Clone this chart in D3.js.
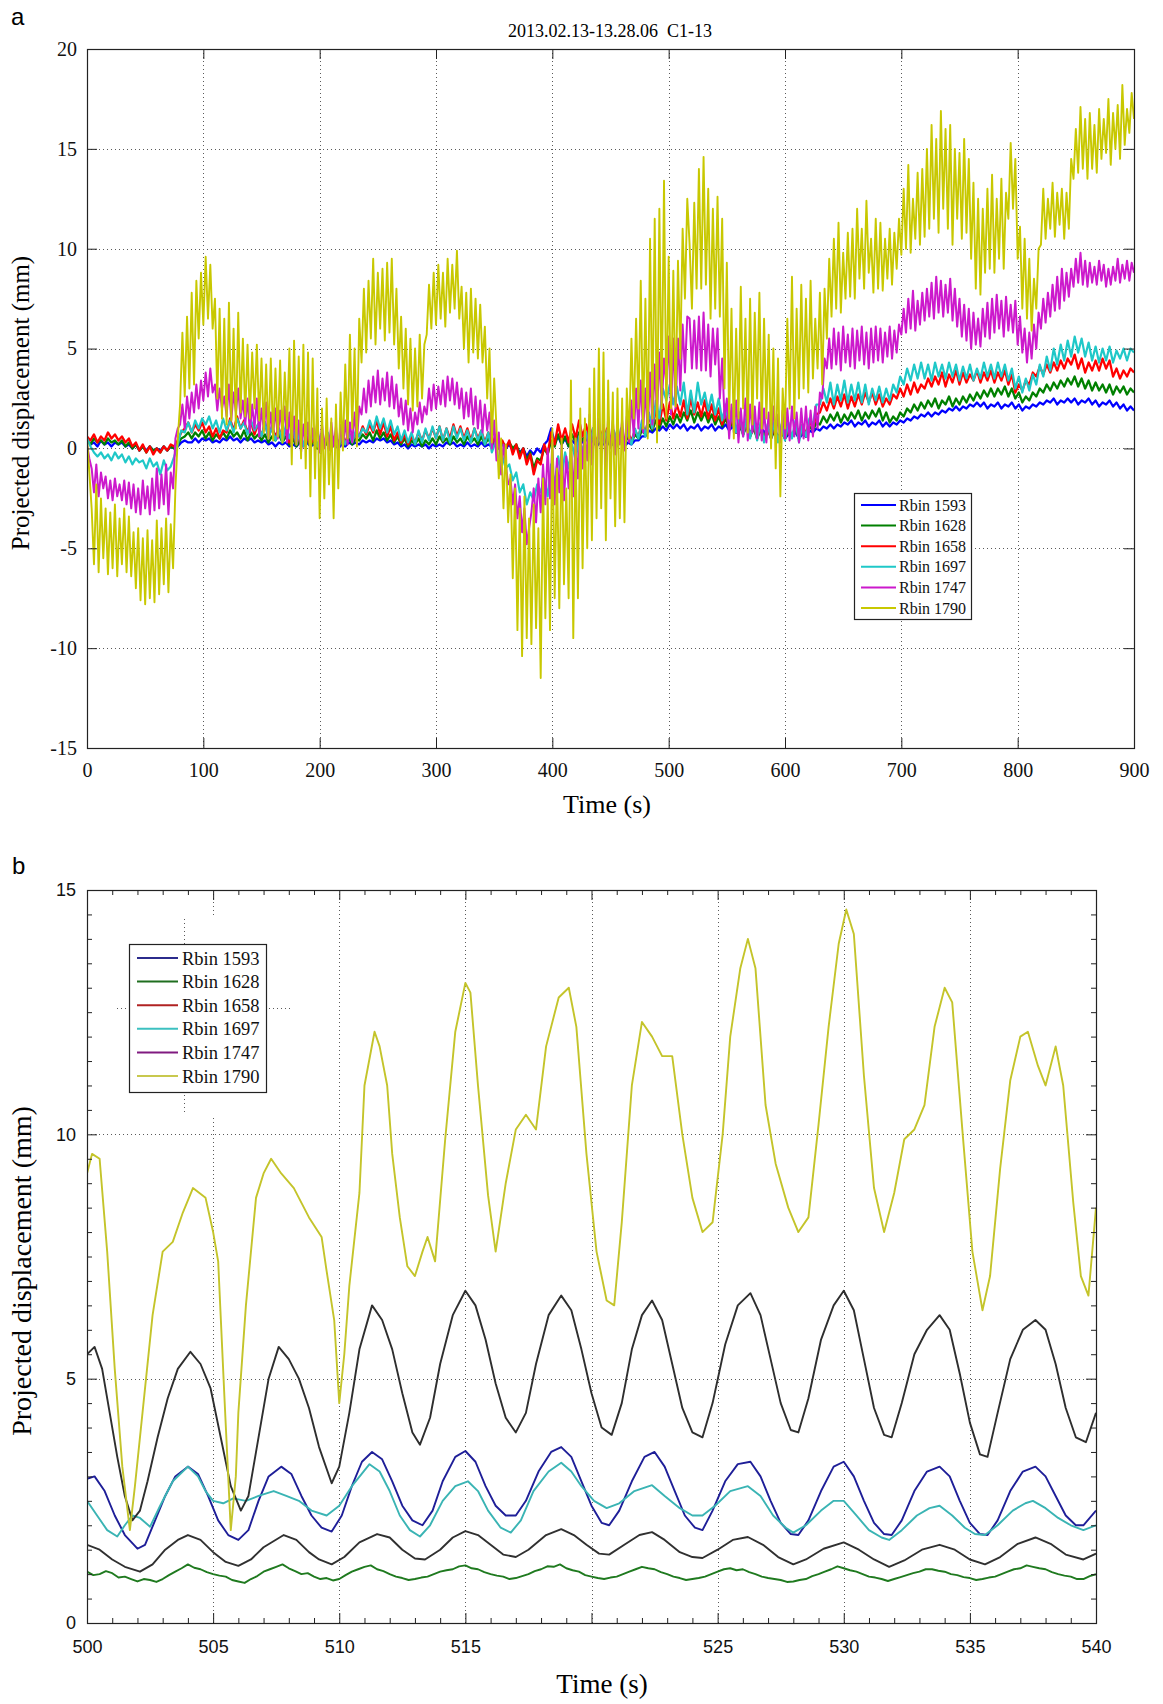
<!DOCTYPE html>
<html>
<head>
<meta charset="utf-8">
<script src="https://cdn.jsdelivr.net/npm/d3@7"></script>
<style>
  html, body { margin: 0; padding: 0; background: #fff; }
  svg { display: block; }
</style>
</head>
<body>
<svg id="fig" width="1163" height="1704"></svg>
<script>
// ---------------- Panel a: full record, 0–900 s ----------------
const titleA = "2013.02.13-13.28.06  C1-13";
const namesA = ["Rbin 1593", "Rbin 1628", "Rbin 1658", "Rbin 1697", "Rbin 1747", "Rbin 1790"];
const colorsA = ["#0000ff", "#008000", "#ff0000", "#1fc8c8", "#cc19cc", "#c8c800"];
const xTicksA = [0, 100, 200, 300, 400, 500, 600, 700, 800, 900];
const yTicksA = [-15, -10, -5, 0, 5, 10, 15, 20];

// sampling interval (s) of each panel-a record
const stepFine = 2;   // Rbin 1747, Rbin 1790
const stepCoarse = 3; // Rbin 1593, 1628, 1658, 1697

const a1593 = [
0.4,0.2,0.3,0.1,0.4,0.2,0.3,0.1,0.3,0.2, 0.3,0.1,0.2,0.0,0.2,-0.1,0.1,-0.1,0.1,-0.1,
0.0,-0.1,0.1,-0.1,0.1,0.0,0.1,0.3,0.4,0.3, 0.3,0.5,0.3,0.5,0.4,0.5,0.3,0.4,0.3,0.5,
0.4,0.6,0.4,0.5,0.3,0.5,0.4,0.5,0.3,0.4, 0.3,0.4,0.2,0.3,0.1,0.3,0.2,0.3,0.1,0.2,
0.1,0.3,0.2,0.3,0.1,0.2,0.0,0.2,0.1,0.3, 0.1,0.2,0.0,0.2,0.1,0.3,0.2,0.3,0.2,0.4,
0.3,0.4,0.3,0.5,0.4,0.5,0.3,0.4,0.2,0.3, 0.1,0.2,0.0,0.2,0.1,0.2,0.1,0.2,0.0,0.2,
0.1,0.2,0.1,0.3,0.2,0.3,0.1,0.2,0.1,0.3, 0.1,0.2,0.1,0.3,0.1,0.2,0.1,0.2,0.0,0.2,
0.0,0.2,-0.1,0.1,-0.2,0.0,-0.4,-0.1,-0.3,0.0, -0.2,0.2,0.4,1.0,0.3,0.6,0.2,0.5,0.1,0.4,
0.2,0.5,0.3,0.5,0.2,0.4,0.1,0.3,0.2,0.4, 0.1,0.3,0.2,0.4,0.1,0.3,0.2,0.4,0.4,0.6,
0.6,0.9,0.8,1.0,0.9,1.1,0.9,1.2,1.0,1.2, 1.0,1.2,0.9,1.1,1.0,1.2,0.9,1.1,1.0,1.2,
0.9,1.1,1.0,1.2,0.9,1.1,0.8,1.0,0.9,1.1, 0.8,1.0,0.9,1.1,0.8,1.0,0.7,0.9,0.6,0.8,
0.5,0.7,0.6,0.8,0.5,0.7,0.6,0.9,0.8,1.0, 0.9,1.1,1.0,1.2,1.0,1.2,1.1,1.3,1.2,1.4,
1.1,1.3,1.2,1.4,1.1,1.3,1.2,1.4,1.1,1.3, 1.1,1.3,1.2,1.4,1.3,1.5,1.4,1.6,1.5,1.7,
1.6,1.8,1.6,1.8,1.7,1.9,1.8,2.0,1.9,2.1, 1.9,2.1,2.0,2.2,2.1,2.3,2.1,2.3,2.0,2.2,
2.1,2.3,2.0,2.2,2.1,2.3,2.0,2.2,1.9,2.1, 2.0,2.2,2.1,2.3,2.2,2.4,2.3,2.5,2.2,2.4,
2.3,2.5,2.3,2.5,2.2,2.4,2.3,2.5,2.2,2.4, 2.1,2.3,2.2,2.4,2.1,2.3,2.0,2.2,1.9,2.1,
1.9];

const a1628 = [
0.4,0.2,0.5,0.3,0.4,0.2,0.5,0.3,0.4,0.2, 0.4,0.1,0.3,0.0,0.2,-0.1,0.1,-0.2,0.1,-0.1,
0.0,-0.2,0.1,-0.1,0.1,0.0,0.2,0.5,0.6,0.8, 0.5,0.8,0.6,0.9,0.5,0.8,0.4,0.7,0.5,0.8,
0.5,0.9,0.6,0.8,0.5,0.9,0.4,0.8,0.5,0.7, 0.4,0.7,0.3,0.6,0.4,0.7,0.3,0.6,0.2,0.5,
0.1,0.4,0.2,0.5,0.1,0.4,0.0,0.3,0.1,0.4, 0.0,0.3,0.1,0.4,0.2,0.5,0.2,0.5,0.4,0.7,
0.5,0.8,0.4,0.9,0.5,0.8,0.4,0.7,0.3,0.6, 0.2,0.5,0.1,0.4,0.2,0.5,0.1,0.4,0.2,0.5,
0.2,0.6,0.3,0.5,0.2,0.6,0.3,0.5,0.2,0.6, 0.3,0.5,0.2,0.6,0.2,0.5,0.1,0.4,0.0,0.3,
0.1,0.3,0.0,0.2,-0.3,0.0,-0.6,-0.2,-1.0,-0.5, -0.6,0.0,-0.3,0.4,0.1,0.7,0.2,0.6,0.1,0.7,
0.3,0.8,0.4,0.7,0.3,0.6,0.2,0.7,0.3,0.6, 0.2,0.6,0.3,0.7,0.2,0.6,0.3,0.7,0.5,0.9,
0.7,1.2,0.9,1.4,1.0,1.5,1.1,1.6,1.2,1.7, 1.3,1.8,1.4,1.9,1.3,1.8,1.4,1.8,1.3,1.7,
1.2,1.6,1.1,1.5,1.0,1.3,0.8,1.2,0.7,1.1, 0.6,1.0,0.5,0.9,0.6,1.0,0.5,0.9,0.4,0.8,
0.5,0.9,0.6,1.0,0.5,0.9,0.6,1.1,0.9,1.3, 1.2,1.6,1.3,1.7,1.4,1.8,1.3,1.7,1.4,1.8,
1.5,1.9,1.4,1.8,1.5,1.9,1.6,2.0,1.4,1.8, 1.3,1.6,1.4,1.8,1.6,2.0,1.8,2.2,1.9,2.3,
2.0,2.4,2.1,2.5,2.0,2.4,2.2,2.6,2.1,2.5, 2.2,2.6,2.3,2.7,2.4,2.8,2.5,2.9,2.6,3.0,
2.6,3.0,2.7,3.1,2.6,3.0,2.5,2.8,2.3,2.6, 2.4,2.8,2.6,3.0,2.8,3.2,2.9,3.3,3.0,3.4,
3.1,3.5,3.2,3.6,3.1,3.5,3.0,3.4,2.9,3.3, 2.9,3.2,2.8,3.2,2.7,3.1,2.8,3.1,2.7,3.0,
2.8];

const a1658 = [
0.6,0.4,0.7,0.3,0.6,0.4,0.8,0.5,0.7,0.4, 0.6,0.3,0.5,0.1,0.3,-0.1,0.2,-0.2,0.1,-0.3,
0.0,-0.2,0.1,-0.1,0.2,0.1,0.4,0.8,1.0,1.3, 0.8,1.2,0.9,1.3,0.8,1.1,0.6,1.0,0.5,0.9,
0.8,1.5,0.9,1.6,1.0,1.4,0.8,1.3,0.7,1.2, 0.6,1.3,0.5,1.1,0.6,1.0,0.4,0.9,0.3,0.8,
0.2,0.7,0.1,0.6,0.2,0.5,0.1,0.6,0.2,0.7, 0.1,0.6,0.2,0.7,0.3,0.8,0.4,0.7,0.6,1.1,
0.7,1.2,0.8,1.4,0.7,1.3,0.6,1.1,0.4,0.8, 0.3,0.7,0.2,0.6,0.3,0.8,0.4,0.9,0.5,1.0,
0.5,1.1,0.4,1.0,0.5,1.2,0.6,1.1,0.5,1.0, 0.4,1.0,0.5,0.9,0.3,0.8,0.2,0.6,0.1,0.4,
0.0,0.4,-0.3,0.2,-0.5,0.0,-0.8,-0.3,-1.3,-0.6, -0.8,0.2,-0.3,0.8,0.2,1.2,0.4,1.0,0.3,1.2,
0.5,1.4,0.6,1.2,0.4,1.0,0.3,0.9,0.4,1.0, 0.2,0.8,0.3,0.7,0.2,0.8,0.4,0.9,0.6,1.2,
0.8,1.6,1.0,1.9,1.2,2.2,1.4,2.3,1.5,2.2, 1.6,2.4,1.5,2.5,1.7,2.3,1.6,2.4,1.5,2.2,
1.4,2.0,1.2,1.8,1.0,1.6,0.8,1.5,0.7,1.3, 0.6,1.2,0.5,1.1,0.4,1.0,0.5,1.1,0.4,0.9,
0.5,1.0,0.6,1.1,0.5,1.2,0.7,1.4,1.0,1.7, 1.8,2.3,1.9,2.5,2.0,2.6,2.1,2.7,2.0,2.6,
2.1,2.7,2.2,2.8,2.3,2.8,2.2,2.7,2.1,2.5, 2.2,2.7,2.5,3.0,2.6,3.2,2.7,3.3,2.8,3.2,
3.0,3.5,3.1,3.6,3.2,3.8,3.1,3.7,3.3,3.9, 3.2,3.8,3.3,3.7,3.4,3.9,3.3,3.8,3.4,3.9,
3.3,3.8,3.4,3.9,3.2,3.7,2.8,3.2,2.9,3.4, 3.2,3.8,3.6,4.1,3.7,4.2,3.8,4.3,3.9,4.4,
4.0,4.5,4.2,4.7,4.0,4.5,3.8,4.3,3.9,4.4, 3.9,4.5,4.0,4.4,3.6,4.0,3.5,3.9,3.6,4.0,
3.8];

const a1697 = [
0.5,0.1,-0.2,-0.4,-0.2,-0.5,-0.3,-0.6,-0.2,-0.5, -0.3,-0.7,-0.4,-0.8,-0.5,-0.7,-0.6,-1.0,-0.5,-0.9,
-0.7,-1.3,-0.6,-1.1,-0.9,-0.4,0.2,0.9,0.8,1.3, 0.8,1.4,1.0,1.5,1.2,1.6,1.0,1.4,0.8,1.5,
0.9,1.4,0.8,1.5,1.0,1.3,0.7,1.4,0.9,1.2, 0.6,1.3,0.5,1.1,0.4,1.0,0.3,1.2,0.5,1.1,
0.2,0.9,0.1,1.0,0.3,0.8,0.1,0.7,0.2,0.8, 0.1,0.6,0.0,0.7,0.2,0.8,0.3,0.9,0.6,1.0,
0.8,1.4,0.9,1.6,1.0,1.5,0.8,1.4,0.7,1.1, 0.4,0.9,0.3,0.8,0.2,0.9,0.3,1.0,0.4,1.1,
0.5,1.1,0.4,1.0,0.3,1.1,0.5,1.0,0.4,0.9, 0.3,1.0,0.4,0.9,0.2,0.8,-0.2,0.3,-0.6,-0.4,
-1.0,-0.8,-1.6,-1.2,-2.2,-1.8,-2.8,-2.2,-2.6,-1.8, -2.2,-1.5,-2.4,-0.8,-1.8,-0.4,-1.5,-0.2,-1.0,0.2,
-0.6,0.6,-0.2,0.8,0.0,1.0,0.2,0.8,0.3,0.9, 0.2,0.9,0.1,1.0,0.3,0.8,0.2,1.0,0.5,1.4,
0.6,1.8,1.0,2.4,1.5,3.0,2.4,3.2,2.2,3.1, 2.2,3.3,1.7,2.9,1.8,3.3,2.2,2.8,1.9,2.7,
1.7,2.5,1.4,2.2,1.0,2.0,0.8,1.8,0.6,1.6, 0.5,1.5,0.4,1.3,0.3,1.2,0.5,1.4,0.3,1.2,
0.4,1.3,0.5,1.4,0.3,1.2,0.6,1.5,1.2,2.2, 2.2,3.0,2.3,3.3,2.2,3.2,2.4,3.4,2.3,3.2,
2.4,3.3,2.3,3.2,2.2,3.0,2.4,3.1,2.3,3.0, 2.4,3.2,2.8,3.6,3.2,4.0,3.4,4.2,3.5,4.3,
3.5,4.2,3.4,4.3,3.6,4.2,3.5,4.3,3.6,4.2, 3.4,4.1,3.5,4.2,3.4,4.0,3.5,4.3,3.6,4.2,
3.5,4.3,3.6,4.2,3.4,4.0,3.0,3.6,2.8,3.5, 2.9,3.7,3.2,4.2,3.6,4.6,3.9,5.0,4.2,5.2,
4.4,5.4,4.6,5.6,4.8,5.5,4.6,5.3,4.4,5.1, 4.3,5.0,4.4,5.1,4.3,4.9,4.5,5.0,4.4,5.0,
4.8];

const a1747 = [
0.2,-0.5,-1.0,-2.2,-0.8,-2.4,-1.2,-2.0,-1.4,-2.5, -1.6,-2.6,-1.5,-2.4,-1.8,-2.6,-1.6,-2.8,-1.7,-3.0,
-1.8,-3.2,-2.0,-3.3,-1.6,-3.0,-1.9,-3.3,-1.5,-3.1, -1.0,-3.0,-1.3,-2.8,-0.8,-3.3,-1.2,-2.0,0.5,1.0,
1.2,2.2,1.0,2.6,1.5,2.8,1.8,3.2,2.0,3.4, 2.4,3.8,2.6,4.0,2.8,3.2,1.9,3.0,2.0,2.6,
1.6,3.2,1.4,2.8,1.8,3.0,1.5,2.4,1.2,2.5, 0.8,2.2,1.0,2.5,0.6,2.0,0.9,2.3,0.5,1.8,
0.7,2.0,0.5,1.9,0.8,2.1,0.3,1.8,0.1,1.6, 0.2,1.4,-0.2,1.2,0.0,1.3,-0.1,1.0,0.2,1.4,
-0.2,1.2,0.0,1.0,-0.1,1.3,0.1,1.1,-0.2,1.2, 0.0,1.4,0.2,1.3,0.3,1.8,0.3,2.1,1.7,3.0,
1.8,3.4,2.1,3.6,2.3,3.9,2.2,3.5,2.4,3.8, 2.1,3.6,2.0,3.2,1.6,2.5,1.2,2.4,0.9,2.0,
0.8,1.8,1.2,2.3,1.3,2.1,1.7,3.0,1.9,3.2, 2.0,3.1,2.2,3.4,2.1,3.6,2.4,3.5,2.2,3.3,
2.0,3.0,1.5,2.8,1.6,3.0,1.2,2.6,1.0,2.4, 0.8,2.2,0.9,1.8,0.0,1.4,-0.6,0.8,-1.3,0.2,
-0.8,-1.8,-1.5,-2.8,-1.8,-3.5,-2.4,-4.2,-3.0,-4.8, -4.0,-3.2,-2.0,-3.7,-1.5,-3.2,-0.8,-2.8,0.0,-2.5,
0.3,-2.8,-0.5,-2.2,0.2,-2.6,-0.4,-2.0,0.3,-2.4, 0.5,-1.5,1.2,-1.0,0.8,-0.6,1.7,-0.8,1.0,-0.4,
1.5,-0.2,1.2,-1.0,1.6,0.0,1.4,-0.3,1.2,0.2, 1.4,-0.1,1.6,0.3,2.4,0.6,3.0,1.0,3.4,0.8,
3.0,0.8,3.8,1.2,4.2,1.6,4.8,2.0,4.5,3.2, 5.6,1.7,5.5,2.0,5.5,2.9,6.2,3.8,6.6,6.5,
4.0,6.4,4.0,6.6,3.9,6.8,3.9,6.2,3.6,6.0, 4.2,6.0,2.5,4.5,1.5,2.5,0.5,2.2,0.8,2.4,
0.3,2.0,0.6,2.5,0.4,2.2,0.8,2.1,0.5,2.3, 0.4,2.0,0.3,1.8,0.6,2.1,0.5,1.7,0.3,1.9,
0.5,2.0,0.4,2.1,0.6,1.8,0.3,2.0,0.5,2.1, 0.4,1.9,0.6,2.1,1.0,2.8,2.5,4.5,4.0,5.5,
4.0,6.0,4.2,5.8,3.9,6.1,4.3,5.7,4.1,6.0, 4.0,5.9,4.4,6.1,4.2,5.8,4.0,6.0,4.3,6.1,
4.4,6.0,4.3,5.8,4.6,6.1,4.5,5.9,4.8,6.2, 5.7,7.0,5.8,7.5,6.0,7.9,5.9,7.4,6.2,7.8,
6.4,8.0,6.6,8.3,6.5,8.6,6.8,8.4,6.6,8.2, 6.8,8.5,6.4,8.0,6.1,7.5,5.6,7.2,5.4,7.0,
5.0,6.8,5.2,6.5,5.1,7.0,5.6,7.3,5.5,7.5, 5.8,7.7,6.0,7.4,5.6,7.6,5.9,7.2,5.8,7.4,
5.2,6.6,4.8,6.0,4.3,5.8,4.5,6.2,5.0,6.8, 6.0,7.5,6.3,7.8,6.6,8.2,6.9,8.6,7.0,9.0,
7.4,8.8,7.6,9.0,8.1,9.5,8.3,9.8,8.2,9.4, 8.1,9.3,8.3,9.1,8.2,9.4,8.4,9.2,8.1,9.0,
8.2,9.1,8.4,9.5,8.3,9.2,8.5,9.4,8.4,9.3,
8.8];

const a1790 = [
0.5,-1.2,-3.0,-5.8,-1.8,-6.2,-2.5,-5.5,-3.0,-6.3, -3.2,-6.0,-2.8,-6.4,-3.5,-5.8,-3.0,-6.2,-3.4,-6.4,
-4.2,-7.0,-4.0,-7.6,-4.5,-7.8,-4.1,-7.5,-4.6,-7.7, -3.6,-7.3,-4.0,-6.8,-3.5,-7.2,-3.8,-6.0,-2.0,0.5,
2.2,5.8,2.6,6.6,3.0,7.8,3.2,8.4,5.5,8.8, 6.2,9.6,6.5,9.2,6.0,7.5,2.5,7.0,1.5,6.5,
1.2,7.3,1.4,6.0,1.0,6.8,1.8,5.5,1.6,5.2, 1.5,4.8,2.0,5.2,1.4,4.5,0.8,4.2,0.5,4.5,
0.4,4.0,0.6,4.4,0.3,3.8,1.0,5.0,-0.8,5.4, 0.2,4.6,-0.5,5.2,-1.0,4.8,-2.4,4.5,-1.5,3.0,
-3.5,2.0,-2.5,2.5,-1.8,1.5,-3.5,2.2,-2.0,2.8, -0.1,4.2,0.5,5.7,1.0,5.0,0.1,6.5,4.3,8.0,
4.8,8.4,5.5,9.5,5.2,8.8,6.0,9.0,5.4,9.3, 5.8,9.5,5.2,8.0,4.0,6.6,3.0,6.0,2.2,5.5,
1.9,5.0,2.1,5.7,2.5,5.2,5.7,8.2,6.0,8.8, 6.2,9.2,6.5,8.8,6.1,9.5,6.8,9.2,7.0,9.9,
6.5,8.1,5.0,7.8,4.3,8.0,4.8,7.5,4.5,7.2, 4.3,6.1,2.5,5.0,0.3,3.5,1.0,-1.5,0.5,-3.0,
0.2,-3.7,-1.3,-6.5,-2.0,-9.1,-3.0,-10.4,-2.4,-9.5, -3.5,-9.8,-2.8,-9.0,-4.0,-11.5,-1.5,-8.5,-2.5,-9.1,
1.0,-7.5,-1.0,-8.0,0.5,-6.8,-2.0,-7.5,3.4,-9.5, 0.5,-7.5,2.0,-6.0,1.5,-5.0,3.0,-4.6,4.0,-3.5,
5.0,-3.0,4.8,-4.6,3.4,-2.5,2.8,-3.9,3.0,-3.5, 2.5,-3.7,3.0,0.5,5.5,1.5,6.5,2.0,8.4,1.0,
7.5,0.5,10.5,1.5,11.5,0.3,12.0,2.0,13.4,1.5, 9.6,2.0,8.9,2.1,9.4,4.5,11.0,7.5,12.5,10.2,
7.0,12.3,8.0,14.0,8.0,14.6,8.2,13.0,6.5,12.0, 7.0,12.6,6.6,11.5,3.0,9.3,1.5,7.0,0.5,6.0,
1.5,8.1,2.0,6.5,0.8,7.5,1.2,6.8,2.5,7.8, 1.0,6.5,1.5,5.7,0.0,5.0,-1.0,4.5,-2.4,3.0,
1.0,6.5,2.0,8.6,1.5,7.0,2.5,8.2,3.0,7.5, 2.8,8.4,3.5,6.5,4.0,7.8,3.2,8.0,5.5,9.5,
6.6,10.5,7.0,11.3,6.8,9.8,7.5,10.8,7.6,11.0, 7.5,12.0,8.5,11.0,8.0,12.4,8.8,10.5,7.8,11.5,
8.0,11.3,7.9,10.5,8.5,11.0,8.2,10.8,9.0,11.5, 9.7,13.0,10.0,14.2,9.8,12.5,10.5,13.8,10.2,14.0,
10.6,15.0,11.0,16.2,11.5,15.5,10.8,16.9,12.0,16.0, 11.0,16.2,10.2,15.0,11.5,14.8,10.5,15.5,10.8,14.5,
9.5,13.3,8.0,12.5,7.7,12.0,8.8,13.0,9.0,13.7, 8.8,12.5,9.5,13.5,9.0,12.8,11.5,15.3,12.0,14.5,
9.5,11.1,7.0,10.5,6.5,9.5,5.9,8.5,7.0,10.0, 10.2,13.0,10.5,12.5,11.0,13.3,10.6,12.8,11.2,13.0,
10.5,12.8,11.0,14.5,13.5,16.0,13.8,17.1,14.0,16.5, 13.5,16.8,14.0,16.2,13.8,17.0,14.5,16.5,14.8,17.5,
14.2,16.8,15.0,17.2,14.5,18.2,15.2,17.0,15.8,17.8,
16.5];

const seriesA = [
  { values: a1593, step: stepCoarse },
  { values: a1628, step: stepCoarse },
  { values: a1658, step: stepCoarse },
  { values: a1697, step: stepCoarse },
  { values: a1747, step: stepFine },
  { values: a1790, step: stepFine }
];

// ---------------- Panel b: detail, 500–540 s ----------------
const namesB = namesA;
const legendColorsB = ["#2b2b8c", "#1f6e1f", "#b02222", "#3cc0c0", "#801a80", "#c8c84e"];
const lineColorsB = ["#1e1e98", "#1f7a1f", "#303030", "#3ab4b4", "#2e2e2e", "#c4c42a"];
const xTicksB = [500, 505, 510, 515, 520, 525, 530, 535, 540];
const xLabelsB = [500, 505, 510, 515, 525, 530, 535, 540];
const yTicksB = [0, 5, 10, 15];

// [time (s), displacement (mm)]
const b1593 = [[500.0,2.95],[500.3,3.0],[500.7,2.7],[501.1,2.2],[501.5,1.8],[502.0,1.52],[502.3,1.6],[502.7,2.1],[503.1,2.6],[503.5,3.0],[504.0,3.2],[504.4,3.05],[504.8,2.6],[505.2,2.1],[505.6,1.8],[506.0,1.7],[506.4,1.9],[506.8,2.5],[507.2,3.0],[507.7,3.2],[508.1,3.05],[508.5,2.6],[508.9,2.2],[509.3,1.95],[509.7,1.87],[510.1,2.2],[510.5,2.8],[510.9,3.3],[511.3,3.5],[511.7,3.35],[512.1,2.9],[512.5,2.4],[512.9,2.1],[513.3,2.0],[513.7,2.3],[514.1,2.9],[514.6,3.4],[515.0,3.52],[515.4,3.3],[515.8,2.8],[516.2,2.4],[516.6,2.2],[517.0,2.2],[517.4,2.5],[517.9,3.1],[518.4,3.5],[518.8,3.6],[519.2,3.4],[519.6,2.9],[520.0,2.4],[520.4,2.05],[520.7,2.0],[521.1,2.3],[521.6,2.9],[522.1,3.4],[522.5,3.5],[522.9,3.2],[523.3,2.7],[523.7,2.2],[524.1,1.95],[524.4,1.9],[524.8,2.3],[525.3,2.9],[525.8,3.25],[526.3,3.3],[526.7,3.0],[527.1,2.5],[527.5,2.05],[527.9,1.82],[528.2,1.8],[528.6,2.1],[529.1,2.7],[529.6,3.2],[530.0,3.3],[530.4,3.0],[530.8,2.5],[531.2,2.05],[531.6,1.82],[531.9,1.8],[532.3,2.1],[532.8,2.7],[533.3,3.1],[533.8,3.2],[534.2,3.0],[534.6,2.5],[535.0,2.05],[535.4,1.82],[535.7,1.8],[536.1,2.1],[536.6,2.7],[537.1,3.1],[537.6,3.2],[538.0,3.0],[538.4,2.6],[538.8,2.2],[539.2,2.0],[539.5,2.0],[540.0,2.3]];

const b1628 = [[500,1.05],[500.25,0.98],[500.5,1.0],[500.75,1.06],[501,1.02],[501.25,0.93],[501.5,0.95],[501.75,0.9],[502,0.85],[502.25,0.9],[502.5,0.88],[502.75,0.84],[503,0.9],[503.25,0.98],[503.5,1.05],[503.75,1.12],[504,1.2],[504.25,1.13],[504.5,1.1],[504.75,1.04],[505,1.0],[505.25,0.97],[505.5,0.95],[505.75,0.88],[506,0.85],[506.25,0.82],[506.5,0.9],[506.75,0.96],[507,1.05],[507.25,1.1],[507.5,1.15],[507.75,1.2],[508,1.12],[508.25,1.06],[508.5,1.0],[508.75,1.02],[509,0.95],[509.25,0.9],[509.5,0.92],[509.75,0.87],[510,0.9],[510.25,0.98],[510.5,1.05],[510.75,1.1],[511,1.15],[511.25,1.18],[511.5,1.1],[511.75,1.06],[512,1.0],[512.25,0.95],[512.5,0.92],[512.75,0.88],[513,0.9],[513.25,0.93],[513.5,0.95],[513.75,1.0],[514,1.05],[514.25,1.08],[514.5,1.1],[514.75,1.16],[515,1.18],[515.25,1.12],[515.5,1.1],[515.75,1.04],[516,1.0],[516.25,0.97],[516.5,0.95],[516.75,0.9],[517,0.92],[517.25,0.96],[517.5,1.0],[517.75,1.06],[518,1.1],[518.25,1.16],[518.5,1.15],[518.75,1.2],[519,1.12],[519.25,1.08],[519.5,1.05],[519.75,0.98],[520,0.95],[520.25,0.92],[520.5,0.9],[520.75,0.93],[521,0.95],[521.25,1.0],[521.5,1.05],[521.75,1.1],[522,1.15],[522.25,1.12],[522.5,1.1],[522.75,1.04],[523,1.0],[523.25,0.95],[523.5,0.92],[523.75,0.88],[524,0.9],[524.25,0.92],[524.5,0.95],[524.75,1.0],[525,1.05],[525.25,1.1],[525.5,1.12],[525.75,1.08],[526,1.1],[526.25,1.04],[526.5,1.0],[526.75,0.95],[527,0.92],[527.25,0.9],[527.5,0.88],[527.75,0.84],[528,0.85],[528.25,0.88],[528.5,0.9],[528.75,0.96],[529,1.0],[529.25,1.05],[529.5,1.1],[529.75,1.16],[530,1.12],[530.25,1.08],[530.5,1.05],[530.75,1.0],[531,0.95],[531.25,0.93],[531.5,0.9],[531.75,0.86],[532,0.9],[532.25,0.94],[532.5,0.98],[532.75,1.02],[533,1.05],[533.25,1.1],[533.5,1.1],[533.75,1.07],[534,1.05],[534.25,1.0],[534.5,0.98],[534.75,0.94],[535,0.92],[535.25,0.88],[535.5,0.9],[535.75,0.93],[536,0.95],[536.25,1.0],[536.5,1.05],[536.75,1.1],[537,1.12],[537.25,1.18],[537.5,1.15],[537.75,1.12],[538,1.1],[538.25,1.04],[538.5,1.0],[538.75,0.97],[539,0.95],[539.25,0.9],[539.5,0.9],[539.75,0.96],[540,1.0]];

const b1658 = [[500.0,1.6],[500.5,1.5],[501.0,1.3],[501.5,1.15],[502.1,1.05],[502.6,1.2],[503.1,1.5],[503.6,1.7],[504.0,1.8],[504.5,1.7],[505.0,1.45],[505.5,1.25],[506.0,1.17],[506.5,1.3],[507.0,1.55],[507.8,1.8],[508.3,1.7],[508.8,1.45],[509.2,1.3],[509.7,1.2],[510.2,1.35],[510.8,1.65],[511.5,1.82],[512.0,1.75],[512.5,1.5],[513.0,1.32],[513.4,1.3],[514.0,1.5],[514.5,1.75],[515.0,1.88],[515.5,1.8],[516.0,1.6],[516.5,1.4],[517.0,1.35],[517.5,1.5],[518.2,1.8],[518.8,1.92],[519.3,1.8],[519.8,1.6],[520.3,1.42],[520.7,1.4],[521.3,1.6],[521.9,1.8],[522.4,1.86],[522.9,1.7],[523.5,1.45],[524.0,1.35],[524.4,1.33],[525.0,1.5],[525.6,1.7],[526.2,1.76],[526.8,1.6],[527.4,1.35],[528.0,1.2],[528.5,1.3],[529.2,1.52],[530.0,1.65],[530.6,1.5],[531.2,1.3],[531.8,1.15],[532.4,1.28],[533.1,1.5],[533.8,1.6],[534.4,1.5],[535.0,1.3],[535.6,1.2],[536.2,1.35],[536.9,1.62],[537.6,1.75],[538.2,1.62],[538.8,1.4],[539.5,1.3],[540.0,1.42]];

const b1697 = [[500.0,2.5],[500.4,2.2],[500.8,1.9],[501.2,1.77],[501.5,2.0],[501.8,2.2],[502.1,2.15],[502.5,1.97],[502.9,2.4],[503.4,2.9],[504.0,3.2],[504.4,3.0],[504.7,2.7],[505.0,2.5],[505.4,2.45],[505.8,2.55],[506.3,2.5],[506.8,2.6],[507.4,2.7],[507.9,2.6],[508.4,2.5],[508.9,2.3],[509.5,2.2],[510.0,2.4],[510.5,2.8],[511.2,3.25],[511.6,3.1],[512.0,2.7],[512.4,2.2],[512.8,1.9],[513.2,1.77],[513.6,2.0],[514.1,2.5],[514.6,2.8],[515.1,2.9],[515.5,2.7],[515.9,2.3],[516.4,1.95],[516.8,1.85],[517.2,2.1],[517.7,2.7],[518.3,3.1],[518.8,3.28],[519.2,3.1],[519.6,2.8],[520.1,2.5],[520.6,2.35],[521.1,2.45],[521.7,2.7],[522.4,2.82],[522.9,2.6],[523.5,2.35],[524.0,2.2],[524.4,2.2],[524.9,2.4],[525.5,2.7],[526.2,2.8],[526.7,2.6],[527.2,2.2],[527.7,1.95],[528.0,1.85],[528.5,2.0],[529.1,2.3],[529.6,2.5],[530.0,2.5],[530.5,2.2],[531.0,1.9],[531.5,1.75],[531.8,1.7],[532.3,1.9],[532.9,2.2],[533.4,2.35],[533.8,2.4],[534.3,2.2],[534.8,1.95],[535.2,1.82],[535.6,1.8],[536.1,2.0],[536.7,2.3],[537.2,2.45],[537.5,2.5],[538.0,2.35],[538.5,2.15],[539.0,2.0],[539.5,1.9],[540.0,2.0]];

const b1747 = [[500.0,5.5],[500.3,5.65],[500.6,5.2],[500.9,4.3],[501.2,3.4],[501.5,2.6],[501.8,2.1],[502.1,2.3],[502.4,2.9],[502.8,3.8],[503.2,4.6],[503.6,5.2],[504.1,5.55],[504.5,5.3],[504.9,4.8],[505.3,3.8],[505.7,2.8],[506.1,2.3],[506.4,2.6],[506.8,3.8],[507.2,5.0],[507.6,5.65],[508.0,5.4],[508.4,5.0],[508.8,4.4],[509.2,3.6],[509.7,2.86],[510.0,3.2],[510.4,4.3],[510.8,5.6],[511.3,6.5],[511.7,6.2],[512.1,5.6],[512.5,4.7],[512.9,3.9],[513.2,3.65],[513.6,4.2],[514.0,5.3],[514.5,6.3],[515.0,6.8],[515.4,6.5],[515.8,5.8],[516.2,4.9],[516.6,4.2],[517.0,3.9],[517.4,4.3],[517.8,5.3],[518.3,6.3],[518.8,6.7],[519.2,6.4],[519.6,5.6],[520.0,4.7],[520.4,4.0],[520.8,3.85],[521.2,4.5],[521.6,5.6],[522.0,6.3],[522.4,6.6],[522.8,6.2],[523.2,5.3],[523.6,4.4],[524.0,3.9],[524.4,3.8],[524.8,4.5],[525.3,5.7],[525.8,6.5],[526.3,6.75],[526.7,6.3],[527.1,5.4],[527.5,4.5],[527.9,3.95],[528.2,3.9],[528.6,4.6],[529.1,5.8],[529.6,6.5],[530.0,6.8],[530.4,6.4],[530.8,5.4],[531.2,4.4],[531.6,3.85],[531.9,3.8],[532.3,4.5],[532.8,5.5],[533.3,6.0],[533.8,6.3],[534.2,6.0],[534.6,5.1],[535.0,4.1],[535.4,3.45],[535.7,3.4],[536.1,4.3],[536.6,5.4],[537.1,6.0],[537.6,6.2],[538.0,6.0],[538.4,5.3],[538.8,4.4],[539.2,3.8],[539.6,3.7],[540.0,4.3]];

const b1790 = [[500.0,9.2],[500.2,9.6],[500.5,9.5],[500.8,7.6],[501.1,5.2],[501.4,3.2],[501.7,1.9],[501.9,2.8],[502.2,4.3],[502.6,6.3],[503.0,7.6],[503.4,7.8],[503.8,8.4],[504.2,8.9],[504.7,8.7],[505.0,8.0],[505.2,7.4],[505.45,4.6],[505.7,1.9],[505.9,3.0],[506.0,4.3],[506.3,6.5],[506.7,8.7],[507.0,9.2],[507.3,9.5],[507.7,9.2],[508.2,8.9],[508.8,8.3],[509.3,7.9],[509.5,7.2],[509.8,6.2],[510.0,4.5],[510.2,5.5],[510.4,6.9],[510.8,8.8],[511.0,11.0],[511.4,12.1],[511.6,11.8],[511.9,11.0],[512.1,9.6],[512.4,8.3],[512.7,7.3],[513.0,7.1],[513.3,7.6],[513.5,7.9],[513.8,7.4],[514.2,9.9],[514.6,12.1],[515.0,13.1],[515.2,12.9],[515.5,11.0],[515.9,8.75],[516.2,7.6],[516.6,9.0],[517.0,10.1],[517.4,10.4],[517.8,10.1],[518.2,11.8],[518.7,12.8],[519.1,13.0],[519.4,12.2],[519.8,9.6],[520.2,7.6],[520.6,6.6],[520.9,6.5],[521.2,8.2],[521.6,11.0],[522.0,12.3],[522.4,12.0],[522.8,11.6],[523.2,11.6],[523.6,10.0],[524.0,8.7],[524.4,8.0],[524.8,8.2],[525.2,10.0],[525.5,12.0],[525.9,13.4],[526.2,14.0],[526.5,13.4],[526.9,10.6],[527.3,9.4],[527.8,8.5],[528.2,8.0],[528.6,8.3],[529.0,10.2],[529.4,12.2],[529.8,13.9],[530.1,14.6],[530.4,14.1],[530.8,11.2],[531.2,8.9],[531.6,8.0],[532.0,8.8],[532.4,9.9],[532.8,10.1],[533.2,10.6],[533.6,12.2],[534.0,13.0],[534.3,12.7],[534.7,10.1],[535.1,7.6],[535.5,6.4],[535.8,7.1],[536.2,9.3],[536.6,11.1],[537.0,12.0],[537.3,12.1],[537.7,11.4],[538.0,11.0],[538.4,11.8],[538.7,11.0],[539.1,8.6],[539.4,7.1],[539.7,6.7],[540.0,8.5]];

const seriesB = [b1593, b1628, b1658, b1697, b1747, b1790];

// ---------------- drawing ----------------
const SERIF = "'Liberation Serif','Times New Roman',Times,serif";
const SANS = "'Liberation Sans',Arial,Helvetica,sans-serif";
const svg = d3.select('#fig');
const px = v => Math.round(v) + 0.5;
const plain = d => String(d); // hyphen-minus for negatives

function styleAxis(sel, family, size) {
  sel.select('.domain').remove();
  sel.attr('font-family', family).attr('font-size', size);
  sel.selectAll('.tick line').attr('stroke', '#222').attr('stroke-width', 1);
  sel.selectAll('.tick text').attr('fill', '#111');
}

function grid(g, xs, ys, x, y, box) {
  g.append('g').selectAll('line').data(xs).join('line')
    .attr('x1', d => px(x(d))).attr('x2', d => px(x(d)))
    .attr('y1', box.t).attr('y2', box.b)
    .attr('stroke', '#5a5a5a').attr('stroke-width', 1).attr('stroke-dasharray', '1 3');
  g.append('g').selectAll('line').data(ys).join('line')
    .attr('x1', box.l).attr('x2', box.r)
    .attr('y1', d => px(y(d))).attr('y2', d => px(y(d)))
    .attr('stroke', '#5a5a5a').attr('stroke-width', 1).attr('stroke-dasharray', '1 3');
}

// ---- panel a ----
const PA = { l: 87, r: 1134, t: 49, b: 748 };
const xA = d3.scaleLinear().domain([0, 900]).range([PA.l, PA.r]);
const yA = d3.scaleLinear().domain([-15, 20]).range([PA.b, PA.t]);
const gA = svg.append('g');

svg.append('text').attr('x', 11).attr('y', 25).attr('font-family', SANS).attr('font-size', 24).text('a');
svg.append('text').attr('x', 610).attr('y', 37).attr('text-anchor', 'middle')
  .attr('font-family', SERIF).attr('font-size', 18).style('white-space', 'pre').text(titleA);

grid(gA, xTicksA.slice(1, -1), yTicksA.slice(1, -1), xA, yA, PA);

svg.append('clipPath').attr('id', 'clipA').append('rect')
  .attr('x', PA.l).attr('y', PA.t).attr('width', PA.r - PA.l).attr('height', PA.b - PA.t);

const widthsA = [2.3, 2.3, 2.3, 2.2, 2.0, 1.9];
const gLinesA = gA.append('g').attr('clip-path', 'url(#clipA)');
seriesA.forEach((s, i) => {
  const line = d3.line().x((d, k) => xA(k * s.step)).y(d => yA(d));
  gLinesA.append('path').attr('d', line(s.values))
    .attr('fill', 'none').attr('stroke', colorsA[i])
    .attr('stroke-width', widthsA[i]).attr('stroke-linejoin', 'round');
});

gA.append('g').attr('transform', `translate(0,${PA.b})`)
  .call(d3.axisBottom(xA).tickValues(xTicksA).tickSizeInner(-10).tickSizeOuter(0).tickPadding(15).tickFormat(plain))
  .call(styleAxis, SERIF, 20);
gA.append('g').attr('transform', `translate(0,${PA.t})`)
  .call(d3.axisTop(xA).tickValues(xTicksA).tickSizeInner(-10).tickSizeOuter(0).tickFormat(''))
  .call(styleAxis, SERIF, 20);
gA.append('g').attr('transform', `translate(${PA.l},0)`)
  .call(d3.axisLeft(yA).tickValues(yTicksA).tickSizeInner(-10).tickSizeOuter(0).tickPadding(10).tickFormat(plain))
  .call(styleAxis, SERIF, 20);
gA.append('g').attr('transform', `translate(${PA.r},0)`)
  .call(d3.axisRight(yA).tickValues(yTicksA).tickSizeInner(-10).tickSizeOuter(0).tickFormat(''))
  .call(styleAxis, SERIF, 20);

gA.append('rect').attr('x', PA.l + 0.5).attr('y', PA.t + 0.5)
  .attr('width', PA.r - PA.l).attr('height', PA.b - PA.t)
  .attr('fill', 'none').attr('stroke', '#222').attr('stroke-width', 1.2);

svg.append('text').attr('x', 607).attr('y', 813).attr('text-anchor', 'middle')
  .attr('font-family', SERIF).attr('font-size', 26).text('Time (s)');
svg.append('text').attr('transform', 'translate(29,403) rotate(-90)').attr('text-anchor', 'middle')
  .attr('font-family', SERIF).attr('font-size', 25).text('Projected displacement (mm)');

// legend a
const legA = gA.append('g');
legA.append('rect').attr('x', 854.5).attr('y', 493.5).attr('width', 117).attr('height', 126)
  .attr('fill', '#fff').attr('stroke', '#222').attr('stroke-width', 1.2);
namesA.forEach((n, i) => {
  const cy = 505 + i * 20.6;
  legA.append('line').attr('x1', 861).attr('x2', 896).attr('y1', cy).attr('y2', cy)
    .attr('stroke', colorsA[i]).attr('stroke-width', 2);
  legA.append('text').attr('x', 899).attr('y', cy + 5.5)
    .attr('font-family', SERIF).attr('font-size', 16).attr('fill', '#111').text(n);
});

// ---- panel b ----
const PB = { l: 87, r: 1096, t: 890, b: 1623 };
const xB = d3.scaleLinear().domain([500, 540]).range([PB.l, PB.r]);
const yB = d3.scaleLinear().domain([0, 15]).range([PB.b, PB.t]);
const gB = svg.append('g');

svg.append('text').attr('x', 12).attr('y', 874).attr('font-family', SANS).attr('font-size', 24).text('b');

grid(gB, xTicksB.slice(1, -1), [5, 10], xB, yB, PB);

// patch behind the legend carrying its own offset grid fragments
gB.append('rect').attr('x', 112).attr('y', 917).attr('width', 185).attr('height', 198).attr('fill', '#fff');
gB.append('line').attr('x1', 184.5).attr('x2', 184.5).attr('y1', 919).attr('y2', 1114)
  .attr('stroke', '#5a5a5a').attr('stroke-dasharray', '1 3');
gB.append('line').attr('x1', 117).attr('x2', 292).attr('y1', 1008.5).attr('y2', 1008.5)
  .attr('stroke', '#5a5a5a').attr('stroke-dasharray', '1 3');

svg.append('clipPath').attr('id', 'clipB').append('rect')
  .attr('x', PB.l).attr('y', PB.t).attr('width', PB.r - PB.l).attr('height', PB.b - PB.t);
const gLinesB = gB.append('g').attr('clip-path', 'url(#clipB)');
const lineB = d3.line().x(d => xB(d[0])).y(d => yB(d[1]));
seriesB.forEach((s, i) => {
  gLinesB.append('path').attr('d', lineB(s)).attr('fill', 'none')
    .attr('stroke', lineColorsB[i]).attr('stroke-width', 1.9).attr('stroke-linejoin', 'round');
});

const minorX = d3.range(500, 541, 1).filter(v => v % 5 !== 0);
const minorY = d3.range(0, 15.01, 0.5).filter(v => v % 5 !== 0);

gB.append('g').attr('transform', `translate(0,${PB.b})`)
  .call(d3.axisBottom(xB).tickValues(xTicksB).tickSizeInner(-10).tickSizeOuter(0).tickPadding(17)
    .tickFormat(d => xLabelsB.includes(d) ? String(d) : ''))
  .call(styleAxis, SANS, 18);
gB.append('g').attr('transform', `translate(0,${PB.b})`)
  .call(d3.axisBottom(xB).tickValues(minorX).tickSizeInner(-5).tickSizeOuter(0).tickFormat(''))
  .call(styleAxis, SANS, 18);
gB.append('g').attr('transform', `translate(0,${PB.t})`)
  .call(d3.axisTop(xB).tickValues(xTicksB).tickSizeInner(-10).tickSizeOuter(0).tickFormat(''))
  .call(styleAxis, SANS, 18);
gB.append('g').attr('transform', `translate(0,${PB.t})`)
  .call(d3.axisTop(xB).tickValues(minorX).tickSizeInner(-5).tickSizeOuter(0).tickFormat(''))
  .call(styleAxis, SANS, 18);
gB.append('g').attr('transform', `translate(${PB.l},0)`)
  .call(d3.axisLeft(yB).tickValues(yTicksB).tickSizeInner(-10).tickSizeOuter(0).tickPadding(11).tickFormat(plain))
  .call(styleAxis, SANS, 18);
gB.append('g').attr('transform', `translate(${PB.l},0)`)
  .call(d3.axisLeft(yB).tickValues(minorY).tickSizeInner(-5).tickSizeOuter(0).tickFormat(''))
  .call(styleAxis, SANS, 18);
gB.append('g').attr('transform', `translate(${PB.r},0)`)
  .call(d3.axisRight(yB).tickValues(yTicksB).tickSizeInner(-10).tickSizeOuter(0).tickFormat(''))
  .call(styleAxis, SANS, 18);
gB.append('g').attr('transform', `translate(${PB.r},0)`)
  .call(d3.axisRight(yB).tickValues(minorY).tickSizeInner(-5).tickSizeOuter(0).tickFormat(''))
  .call(styleAxis, SANS, 18);

gB.append('rect').attr('x', PB.l + 0.5).attr('y', PB.t + 0.5)
  .attr('width', PB.r - PB.l).attr('height', PB.b - PB.t)
  .attr('fill', 'none').attr('stroke', '#222').attr('stroke-width', 1.2);

svg.append('text').attr('x', 602).attr('y', 1693).attr('text-anchor', 'middle')
  .attr('font-family', SERIF).attr('font-size', 27).text('Time (s)');
svg.append('text').attr('transform', 'translate(31,1271) rotate(-90)').attr('text-anchor', 'middle')
  .attr('font-family', SERIF).attr('font-size', 28).text('Projected displacement (mm)');

// legend b
const legB = gB.append('g');
legB.append('rect').attr('x', 129.5).attr('y', 944.5).attr('width', 137).attr('height', 148)
  .attr('fill', '#fff').attr('stroke', '#222').attr('stroke-width', 1.2);
namesB.forEach((n, i) => {
  const cy = 958 + i * 23.6;
  legB.append('line').attr('x1', 137).attr('x2', 178).attr('y1', cy).attr('y2', cy)
    .attr('stroke', legendColorsB[i]).attr('stroke-width', 2);
  legB.append('text').attr('x', 182).attr('y', cy + 6.5)
    .attr('font-family', SERIF).attr('font-size', 18.5).attr('fill', '#111').text(n);
});
</script>
</body>
</html>
